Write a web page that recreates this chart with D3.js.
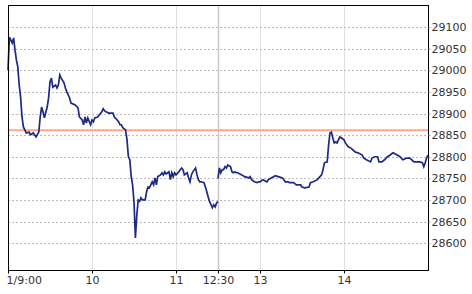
<!DOCTYPE html>
<html>
<head>
<meta charset="utf-8">
<script src="https://cdn.jsdelivr.net/npm/d3@7"></script>
<style>
  body { margin: 0; background: #fff; }
  svg text { font-family: "DejaVu Sans", Verdana, sans-serif; font-size: 11px; fill: #333; }
</style>
</head>
<body>
<div id="chart"></div>
<script>
const width = 472
const height = 294
const margin = {top: 5, right: 44, bottom: 24, left: 8}

// session minutes from 9:00 (lunch break 11:30-12:30 removed, so 150 = 11:30 = 12:30)
const morningTimes = [0,1,3,4,5,6,7,8,9,10,11,12,13,15,16,18,20,22,23,24,25,26,28,29,30,31,32,34,35,36,37,38,40,41,42,43,44,45,48,50,51,53,54,55,56,57,59,60,61,62,64,67,68,69,70,72,74,75,76,78,79,80,81,82,84,85,86,87,88,89,90,91,92,93,94,95,96,98,99,100,101,103,104,105,106,107,109,110,111,112,113,115,116,117,118,119,120,122,123,124,125,126,128,129,130,131,132,134,135,136,137,138,140,141,142,143,144,146,147,148,149,150]
const morningPrices = [29000,29077,29063,29075,29047,29024,29008,28966,28938,28892,28869,28862,28855,28857,28851,28855,28846,28857,28892,28915,28904,28890,28915,28936,28973,28982,28961,28966,28959,28966,28989,28982,28971,28959,28950,28943,28936,28924,28920,28913,28892,28885,28874,28892,28878,28890,28874,28885,28881,28890,28892,28904,28911,28906,28904,28901,28901,28901,28892,28885,28881,28874,28874,28867,28862,28839,28800,28793,28754,28735,28695,28612,28665,28700,28697,28705,28700,28700,28719,28730,28728,28742,28735,28751,28735,28754,28758,28763,28758,28765,28760,28765,28747,28763,28754,28763,28758,28765,28770,28774,28770,28758,28763,28751,28742,28758,28765,28774,28758,28747,28742,28742,28740,28730,28719,28707,28696,28682,28689,28684,28693,28696]
const afternoonTimes = [150,151,152,153,154,155,156,157,159,160,161,162,163,164,167,169,172,173,174,176,178,179,180,182,185,186,188,191,193,196,197,198,200,201,204,206,209,210,212,215,216,218,221,222,224,225,226,228,229,230,231,232,233,234,235,236,237,238,240,241,243,245,248,250,253,254,256,259,260,262,264,265,267,269,271,273,275,278,280,282,285,287,290,292,294,296,297,298,299,300]
const afternoonPrices = [28750,28774,28763,28770,28770,28777,28774,28781,28777,28765,28763,28765,28763,28763,28758,28754,28751,28754,28747,28742,28740,28742,28742,28747,28742,28747,28751,28756,28754,28751,28747,28742,28742,28740,28740,28735,28735,28730,28728,28730,28740,28742,28747,28751,28758,28770,28786,28788,28827,28855,28857,28844,28832,28834,28832,28839,28846,28844,28839,28832,28823,28820,28811,28809,28804,28797,28793,28788,28797,28800,28800,28788,28788,28793,28800,28804,28809,28804,28800,28793,28797,28797,28788,28788,28788,28786,28777,28786,28797,28804]

const refPrice = 28861
const xTickValues = [0, 60, 120, 150, 180, 240]
const xTickLabels = ["1/9:00", "10", "11", "12:30", "13", "14"]
const yTickValues = [28600, 28650, 28700, 28750, 28800, 28850, 28900, 28950, 29000, 29050, 29100]

const innerW = width - margin.left - margin.right
const innerH = height - margin.top - margin.bottom

const svg = d3.select("div#chart").append("svg").attr("width", width).attr("height", height)
const g = svg.append("g").attr("transform", `translate(${margin.left}, ${margin.top})`)

const x = d3.scaleLinear().domain([0, 300]).range([0, innerW])
const y = d3.scaleLinear().domain([28538, 29151]).range([innerH, 0])

// vertical grid
g.append("g").selectAll("line").data(xTickValues.slice(1)).join("line")
    .attr("x1", d => x(d) + 0.5).attr("x2", d => x(d) + 0.5)
    .attr("y1", 0).attr("y2", innerH)
    .attr("stroke", d => d === 150 ? "#c8c8c8" : "#e0e0e0")
    .attr("stroke-width", d => d === 150 ? 1.5 : 1)

// horizontal grid
g.append("g").selectAll("line").data(yTickValues).join("line")
    .attr("x1", 0).attr("x2", innerW)
    .attr("y1", d => Math.round(y(d)) + 0.5).attr("y2", d => Math.round(y(d)) + 0.5)
    .attr("stroke", "#bbb")
    .attr("stroke-dasharray", "2,2")

// reference line
g.append("line")
    .attr("x1", 0).attr("x2", innerW)
    .attr("y1", y(refPrice)).attr("y2", y(refPrice))
    .attr("stroke", "#ffa68c")
    .attr("stroke-width", 2)

const line = d3.line().x(d => x(d[0])).y(d => y(d[1]))

g.append("path").datum(d3.zip(morningTimes, morningPrices))
    .attr("d", line).attr("fill", "none")
    .attr("stroke", "#1c2a85").attr("stroke-width", 1.7)
g.append("path").datum(d3.zip(afternoonTimes, afternoonPrices))
    .attr("d", line).attr("fill", "none")
    .attr("stroke", "#1c2a85").attr("stroke-width", 1.7)

// frame
g.append("rect").attr("x", 0.5).attr("y", 0.5).attr("width", innerW).attr("height", innerH)
    .attr("fill", "none").attr("stroke", "#000")

// axes
const xAxis = d3.axisBottom(x).tickValues(xTickValues)
    .tickFormat((d, i) => xTickLabels[i]).tickSize(3).tickPadding(3)
const xAxisGroup = g.append("g").attr("transform", `translate(0, ${innerH + 0.5})`).call(xAxis)
xAxisGroup.select(".domain").remove()
xAxisGroup.selectAll("text").attr("fill", "#333").style("font-size", "11px")
    .attr("text-anchor", (d, i) => i === 0 ? "start" : "middle")
    .attr("dx", (d, i) => i === 0 ? -2 : 0)

const yAxis = d3.axisRight(y).tickValues(yTickValues).tickFormat(d3.format("d")).tickSize(2).tickPadding(1)
const yAxisGroup = g.append("g").attr("transform", `translate(${innerW + 0.5}, 0)`).call(yAxis)
yAxisGroup.select(".domain").remove()
yAxisGroup.selectAll("line").attr("stroke", "#999")
yAxisGroup.selectAll("text").attr("fill", "#333").style("font-size", "11px")
</script>
</body>
</html>
